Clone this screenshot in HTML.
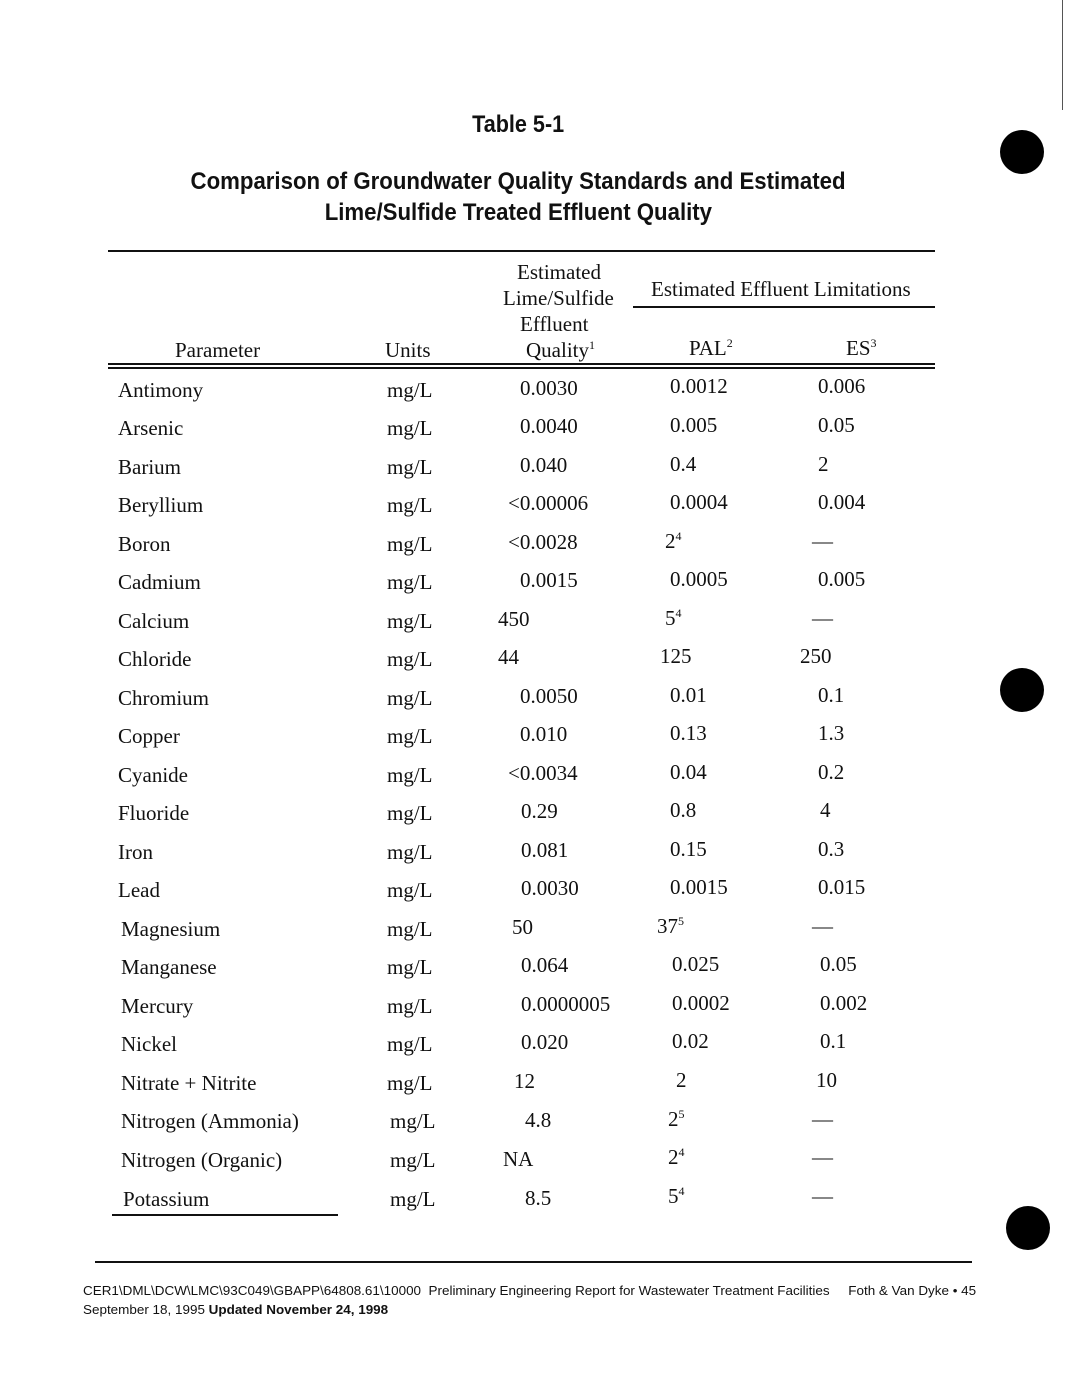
<!DOCTYPE html>
<html><head><meta charset="utf-8"><style>
html,body{margin:0;padding:0;background:#fff;}
body{width:1068px;height:1380px;position:relative;overflow:hidden;font-family:"Liberation Serif",serif;color:#111;}
.t{position:absolute;font-size:21px;line-height:26px;white-space:nowrap;}
.h{position:absolute;left:0;width:1068px;text-align:center;font-family:"Liberation Sans",sans-serif;font-weight:bold;white-space:nowrap;}
.h span{display:inline-block;transform:scaleX(0.86);}
.l{position:absolute;background:#111;}
.dot{position:absolute;width:44px;height:44px;border-radius:50%;background:#000;}
sup{font-size:12px;vertical-align:8px;line-height:0;}
.f{position:absolute;font-family:"Liberation Sans",sans-serif;font-size:13px;white-space:nowrap;transform-origin:left;transform:scaleX(1.035);}
</style></head><body>
<div class="h" style="top:111px;font-size:24px;left:-16px"><span style="transform:scaleX(0.9)">Table 5-1</span></div>
<div class="h" style="top:168px;font-size:24px;left:-16px"><span style="transform:scaleX(0.925)">Comparison of Groundwater Quality Standards and Estimated</span></div>
<div class="h" style="top:199px;font-size:24px;left:-16px"><span style="transform:scaleX(0.925)">Lime/Sulfide Treated Effluent Quality</span></div>

<div class="dot" style="left:1000px;top:130px"></div>
<div class="dot" style="left:1000px;top:668px"></div>
<div class="dot" style="left:1006px;top:1206px"></div>
<div class="l" style="left:1062px;top:0;width:1px;height:110px;background:#555"></div>

<div class="l" style="left:108px;top:250px;width:827px;height:2px"></div>
<div class="l" style="left:633px;top:306px;width:302px;height:2px"></div>
<div class="l" style="left:108px;top:363px;width:827px;height:2px"></div>
<div class="l" style="left:108px;top:367px;width:827px;height:2px"></div>
<div class="l" style="left:112px;top:1214px;width:226px;height:2px"></div>
<div class="l" style="left:95px;top:1261px;width:877px;height:2px"></div>

<div class="t" style="left:517px;top:259px">Estimated</div>
<div class="t" style="left:503px;top:285px">Lime/Sulfide</div>
<div class="t" style="left:520px;top:311px">Effluent</div>
<div class="t" style="left:526px;top:337px">Quality<sup>1</sup></div>
<div class="t" style="left:651px;top:276px">Estimated Effluent Limitations</div>
<div class="t" style="left:175px;top:337px">Parameter</div>
<div class="t" style="left:385px;top:337px">Units</div>
<div class="t" style="left:689px;top:335px">PAL<sup>2</sup></div>
<div class="t" style="left:846px;top:335px">ES<sup>3</sup></div>

<div class="t" style="left:118px;top:377px">Antimony</div><div class="t" style="left:387px;top:377px">mg/L</div><div class="t" style="left:520px;top:375px">0.0030</div><div class="t" style="left:670px;top:373px">0.0012</div><div class="t" style="left:818px;top:373px">0.006</div>
<div class="t" style="left:118px;top:415px">Arsenic</div><div class="t" style="left:387px;top:415px">mg/L</div><div class="t" style="left:520px;top:413px">0.0040</div><div class="t" style="left:670px;top:412px">0.005</div><div class="t" style="left:818px;top:412px">0.05</div>
<div class="t" style="left:118px;top:454px">Barium</div><div class="t" style="left:387px;top:454px">mg/L</div><div class="t" style="left:520px;top:452px">0.040</div><div class="t" style="left:670px;top:451px">0.4</div><div class="t" style="left:818px;top:451px">2</div>
<div class="t" style="left:118px;top:492px">Beryllium</div><div class="t" style="left:387px;top:492px">mg/L</div><div class="t" style="left:508px;top:490px">&lt;0.00006</div><div class="t" style="left:670px;top:489px">0.0004</div><div class="t" style="left:818px;top:489px">0.004</div>
<div class="t" style="left:118px;top:531px">Boron</div><div class="t" style="left:387px;top:531px">mg/L</div><div class="t" style="left:508px;top:529px">&lt;0.0028</div><div class="t" style="left:665px;top:528px">2<sup>4</sup></div><div class="t" style="left:812px;top:528px">—</div>
<div class="t" style="left:118px;top:569px">Cadmium</div><div class="t" style="left:387px;top:569px">mg/L</div><div class="t" style="left:520px;top:567px">0.0015</div><div class="t" style="left:670px;top:566px">0.0005</div><div class="t" style="left:818px;top:566px">0.005</div>
<div class="t" style="left:118px;top:608px">Calcium</div><div class="t" style="left:387px;top:608px">mg/L</div><div class="t" style="left:498px;top:606px">450</div><div class="t" style="left:665px;top:605px">5<sup>4</sup></div><div class="t" style="left:812px;top:605px">—</div>
<div class="t" style="left:118px;top:646px">Chloride</div><div class="t" style="left:387px;top:646px">mg/L</div><div class="t" style="left:498px;top:644px">44</div><div class="t" style="left:660px;top:643px">125</div><div class="t" style="left:800px;top:643px">250</div>
<div class="t" style="left:118px;top:685px">Chromium</div><div class="t" style="left:387px;top:685px">mg/L</div><div class="t" style="left:520px;top:683px">0.0050</div><div class="t" style="left:670px;top:682px">0.01</div><div class="t" style="left:818px;top:682px">0.1</div>
<div class="t" style="left:118px;top:723px">Copper</div><div class="t" style="left:387px;top:723px">mg/L</div><div class="t" style="left:520px;top:721px">0.010</div><div class="t" style="left:670px;top:720px">0.13</div><div class="t" style="left:818px;top:720px">1.3</div>
<div class="t" style="left:118px;top:762px">Cyanide</div><div class="t" style="left:387px;top:762px">mg/L</div><div class="t" style="left:508px;top:760px">&lt;0.0034</div><div class="t" style="left:670px;top:759px">0.04</div><div class="t" style="left:818px;top:759px">0.2</div>
<div class="t" style="left:118px;top:800px">Fluoride</div><div class="t" style="left:387px;top:800px">mg/L</div><div class="t" style="left:521px;top:798px">0.29</div><div class="t" style="left:670px;top:797px">0.8</div><div class="t" style="left:820px;top:797px">4</div>
<div class="t" style="left:118px;top:839px">Iron</div><div class="t" style="left:387px;top:839px">mg/L</div><div class="t" style="left:521px;top:837px">0.081</div><div class="t" style="left:670px;top:836px">0.15</div><div class="t" style="left:818px;top:836px">0.3</div>
<div class="t" style="left:118px;top:877px">Lead</div><div class="t" style="left:387px;top:877px">mg/L</div><div class="t" style="left:521px;top:875px">0.0030</div><div class="t" style="left:670px;top:874px">0.0015</div><div class="t" style="left:818px;top:874px">0.015</div>
<div class="t" style="left:121px;top:916px">Magnesium</div><div class="t" style="left:387px;top:916px">mg/L</div><div class="t" style="left:512px;top:914px">50</div><div class="t" style="left:657px;top:913px">37<sup>5</sup></div><div class="t" style="left:812px;top:913px">—</div>
<div class="t" style="left:121px;top:954px">Manganese</div><div class="t" style="left:387px;top:954px">mg/L</div><div class="t" style="left:521px;top:952px">0.064</div><div class="t" style="left:672px;top:951px">0.025</div><div class="t" style="left:820px;top:951px">0.05</div>
<div class="t" style="left:121px;top:993px">Mercury</div><div class="t" style="left:387px;top:993px">mg/L</div><div class="t" style="left:521px;top:991px">0.0000005</div><div class="t" style="left:672px;top:990px">0.0002</div><div class="t" style="left:820px;top:990px">0.002</div>
<div class="t" style="left:121px;top:1031px">Nickel</div><div class="t" style="left:387px;top:1031px">mg/L</div><div class="t" style="left:521px;top:1029px">0.020</div><div class="t" style="left:672px;top:1028px">0.02</div><div class="t" style="left:820px;top:1028px">0.1</div>
<div class="t" style="left:121px;top:1070px">Nitrate + Nitrite</div><div class="t" style="left:387px;top:1070px">mg/L</div><div class="t" style="left:514px;top:1068px">12</div><div class="t" style="left:676px;top:1067px">2</div><div class="t" style="left:816px;top:1067px">10</div>
<div class="t" style="left:121px;top:1108px">Nitrogen (Ammonia)</div><div class="t" style="left:390px;top:1108px">mg/L</div><div class="t" style="left:525px;top:1107px">4.8</div><div class="t" style="left:668px;top:1106px">2<sup>5</sup></div><div class="t" style="left:812px;top:1106px">—</div>
<div class="t" style="left:121px;top:1147px">Nitrogen (Organic)</div><div class="t" style="left:390px;top:1147px">mg/L</div><div class="t" style="left:503px;top:1146px">NA</div><div class="t" style="left:668px;top:1144px">2<sup>4</sup></div><div class="t" style="left:812px;top:1144px">—</div>
<div class="t" style="left:123px;top:1186px">Potassium</div><div class="t" style="left:390px;top:1186px">mg/L</div><div class="t" style="left:525px;top:1185px">8.5</div><div class="t" style="left:668px;top:1183px">5<sup>4</sup></div><div class="t" style="left:812px;top:1183px">—</div>

<div class="f" style="left:83px;top:1283px">CER1\DML\DCW\LMC\93C049\GBAPP\64808.61\10000&nbsp; Preliminary Engineering Report for Wastewater Treatment Facilities &nbsp;&nbsp;&nbsp; Foth &amp; Van Dyke • 45</div>
<div class="f" style="left:83px;top:1302px">September 18, 1995 <b>Updated November 24, 1998</b></div>
</body></html>
